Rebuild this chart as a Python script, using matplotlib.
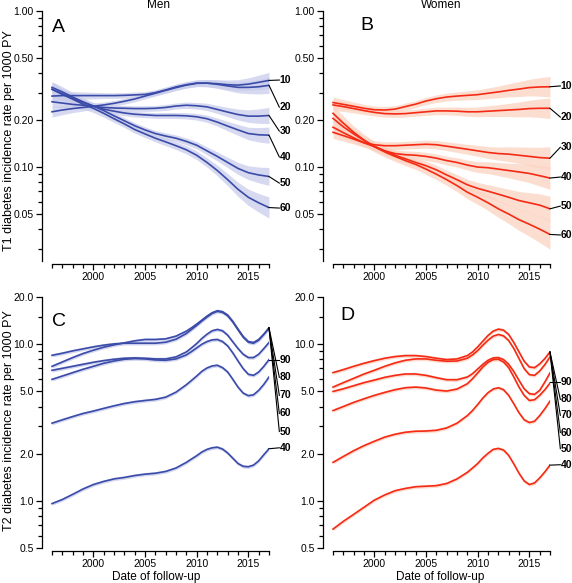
import matplotlib
matplotlib.use("Agg")
import matplotlib.pyplot as plt
from matplotlib.ticker import NullFormatter

plt.rcParams['font.family'] = ['Liberation Sans', 'DejaVu Sans']

# ---------------- data ----------------
years = list(range(1996, 2018))
years_t2 = list(range(1996, 2010)) + [2009.5, 2010, 2010.5, 2011, 2011.5, 2012, 2012.5,
                                      2013, 2013.5, 2014, 2014.5, 2015, 2015.5, 2016, 2016.5, 2017]
ages_t1 = ['10', '20', '30', '40', '50', '60']
ages_t2 = ['40', '50', '60', '70', '80', '90']

# T1, men (rate per 1000 PY)
t1_men_10 = [0.226, 0.232, 0.237, 0.241, 0.245, 0.250, 0.256, 0.264, 0.273, 0.285, 0.297,
             0.310, 0.323, 0.335, 0.344, 0.345, 0.342, 0.337, 0.335, 0.340, 0.349, 0.359]
t1_men_20 = [0.285, 0.287, 0.287, 0.287, 0.287, 0.287, 0.287, 0.288, 0.290, 0.292, 0.300,
             0.312, 0.326, 0.337, 0.345, 0.345, 0.339, 0.331, 0.324, 0.324, 0.327, 0.334]
t1_men_30 = [0.262, 0.257, 0.252, 0.249, 0.245, 0.241, 0.239, 0.238, 0.237, 0.237, 0.238,
             0.241, 0.246, 0.249, 0.247, 0.243, 0.234, 0.225, 0.217, 0.212, 0.212, 0.214]
t1_men_40 = [0.315, 0.295, 0.276, 0.259, 0.246, 0.235, 0.228, 0.222, 0.218, 0.216, 0.214,
             0.214, 0.214, 0.213, 0.210, 0.204, 0.194, 0.183, 0.173, 0.164, 0.161, 0.160]
t1_men_50 = [0.324, 0.303, 0.281, 0.262, 0.246, 0.230, 0.213, 0.198, 0.184, 0.173, 0.164,
             0.158, 0.153, 0.146, 0.138, 0.127, 0.117, 0.107, 0.098, 0.092, 0.089, 0.087]
t1_men_60 = [0.315, 0.292, 0.272, 0.253, 0.238, 0.221, 0.204, 0.189, 0.174, 0.163, 0.153,
             0.145, 0.137, 0.129, 0.119, 0.107, 0.095, 0.083, 0.072, 0.064, 0.059, 0.055]

# T1, women
t1_women_10 = [0.259, 0.252, 0.245, 0.238, 0.233, 0.232, 0.235, 0.244, 0.253, 0.265, 0.274,
               0.281, 0.285, 0.288, 0.291, 0.297, 0.303, 0.310, 0.316, 0.323, 0.326, 0.327]
t1_women_20 = [0.250, 0.244, 0.237, 0.230, 0.224, 0.220, 0.219, 0.220, 0.223, 0.226, 0.229,
               0.229, 0.228, 0.226, 0.226, 0.228, 0.230, 0.232, 0.234, 0.237, 0.238, 0.238]
t1_women_30 = [0.167, 0.159, 0.151, 0.143, 0.139, 0.137, 0.137, 0.138, 0.139, 0.140, 0.139,
               0.136, 0.133, 0.130, 0.127, 0.124, 0.122, 0.121, 0.119, 0.117, 0.115, 0.114]
t1_women_40 = [0.180, 0.166, 0.154, 0.143, 0.135, 0.127, 0.122, 0.120, 0.119, 0.117, 0.114,
               0.110, 0.107, 0.103, 0.100, 0.099, 0.097, 0.095, 0.093, 0.091, 0.088, 0.085]
t1_women_50 = [0.205, 0.181, 0.163, 0.148, 0.136, 0.127, 0.119, 0.113, 0.107, 0.102, 0.096,
               0.089, 0.083, 0.077, 0.073, 0.070, 0.067, 0.064, 0.061, 0.059, 0.057, 0.054]
t1_women_60 = [0.221, 0.191, 0.167, 0.149, 0.135, 0.125, 0.117, 0.110, 0.104, 0.097, 0.090,
               0.083, 0.076, 0.069, 0.064, 0.059, 0.054, 0.050, 0.046, 0.043, 0.040, 0.037]

# half width of the confidence band (log10 units) per year
ci_men = [0.034, 0.030, 0.026, 0.023, 0.021, 0.019, 0.018, 0.018, 0.018, 0.018, 0.018,
          0.019, 0.019, 0.020, 0.021, 0.023, 0.026, 0.030, 0.035, 0.040, 0.046, 0.052]
ci_women = [0.040, 0.035, 0.031, 0.028, 0.026, 0.025, 0.025, 0.025, 0.025, 0.026, 0.027,
            0.028, 0.030, 0.032, 0.035, 0.038, 0.042, 0.047, 0.053, 0.059, 0.066, 0.073]
ci_scale_men = [1.0, 1.0, 1.0, 1.0, 1.1, 1.3]
ci_scale_women = [0.9, 0.9, 1.0, 1.0, 1.1, 1.3]

# T2, men
t2_men_40 = [0.96, 1.02, 1.10, 1.19, 1.27, 1.33, 1.38, 1.41, 1.45, 1.48, 1.50, 1.54, 1.62, 1.76,
             1.85, 1.94, 2.05, 2.13, 2.18, 2.20, 2.14, 2.02, 1.87, 1.73, 1.66, 1.65, 1.69, 1.80, 1.97, 2.15]
t2_men_50 = [3.13, 3.29, 3.45, 3.61, 3.74, 3.89, 4.04, 4.18, 4.29, 4.37, 4.44, 4.59, 4.94, 5.51,
             5.87, 6.26, 6.71, 7.05, 7.26, 7.33, 7.08, 6.64, 5.96, 5.32, 4.87, 4.69, 4.75, 5.07, 5.54, 6.17]
t2_men_60 = [5.96, 6.26, 6.58, 6.91, 7.22, 7.55, 7.81, 8.01, 8.09, 8.05, 7.93, 7.89, 8.05, 8.54,
             8.97, 9.47, 9.99, 10.39, 10.65, 10.71, 10.39, 9.75, 8.79, 7.81, 6.98, 6.42, 6.32, 6.64, 7.22, 7.97]
t2_men_70 = [6.81, 7.01, 7.22, 7.44, 7.66, 7.85, 8.01, 8.13, 8.17, 8.13, 8.05, 8.05, 8.29, 8.92,
             9.47, 10.09, 10.87, 11.58, 12.17, 12.41, 12.17, 11.41, 10.34, 9.38, 8.62, 8.21, 8.21, 8.62, 9.38, 10.24]
t2_men_80 = [7.22, 7.70, 8.21, 8.71, 9.15, 9.56, 9.90, 10.19, 10.50, 10.71, 10.71, 10.81, 11.25, 12.11,
             12.72, 13.43, 14.24, 15.11, 15.87, 16.35, 16.11, 15.33, 13.97, 12.47, 11.19, 10.39, 10.24, 10.71, 11.58, 12.72]
t2_men_90 = [8.49, 8.75, 9.06, 9.33, 9.61, 9.85, 10.04, 10.14, 10.14, 10.14, 10.14, 10.29, 10.76, 11.70,
             12.41, 13.17, 14.04, 14.89, 15.72, 16.19, 15.95, 15.18, 13.83, 12.35, 11.08, 10.29, 10.14, 10.60, 11.53, 12.66]

# T2, women
t2_women_40 = [0.66, 0.74, 0.82, 0.91, 1.01, 1.09, 1.16, 1.20, 1.23, 1.24, 1.25, 1.29, 1.38, 1.52,
               1.62, 1.73, 1.88, 2.01, 2.13, 2.16, 2.11, 1.95, 1.72, 1.50, 1.34, 1.27, 1.30, 1.40, 1.53, 1.69]
t2_women_50 = [1.76, 1.92, 2.09, 2.25, 2.40, 2.55, 2.66, 2.74, 2.78, 2.79, 2.82, 2.92, 3.13, 3.50,
               3.77, 4.12, 4.53, 4.90, 5.17, 5.27, 5.12, 4.71, 4.16, 3.65, 3.29, 3.16, 3.22, 3.50, 3.87, 4.33]
t2_women_60 = [3.77, 4.00, 4.25, 4.48, 4.71, 4.92, 5.12, 5.27, 5.32, 5.25, 5.09, 5.02, 5.17, 5.59,
               6.02, 6.55, 7.15, 7.66, 7.97, 8.01, 7.70, 7.08, 6.17, 5.32, 4.71, 4.37, 4.42, 4.71, 5.12, 5.65]
t2_women_70 = [4.99, 5.19, 5.43, 5.68, 5.90, 6.14, 6.32, 6.45, 6.45, 6.32, 6.11, 5.93, 5.93, 6.17,
               6.48, 6.94, 7.44, 7.89, 8.17, 8.21, 7.97, 7.44, 6.68, 5.87, 5.19, 4.83, 4.78, 5.07, 5.73, 6.55]
t2_women_80 = [5.32, 5.68, 6.05, 6.45, 6.81, 7.22, 7.59, 7.89, 8.05, 8.05, 7.89, 7.78, 7.81, 8.13,
               8.54, 9.10, 9.85, 10.60, 11.25, 11.53, 11.30, 10.55, 9.38, 8.09, 6.98, 6.39, 6.32, 6.74, 7.40, 8.29]
t2_women_90 = [6.58, 6.88, 7.22, 7.55, 7.85, 8.13, 8.33, 8.45, 8.45, 8.33, 8.13, 7.97, 8.05, 8.45,
               8.92, 9.61, 10.45, 11.36, 12.11, 12.47, 12.29, 11.53, 10.24, 8.92, 7.78, 7.15, 7.08, 7.48, 8.09, 8.92]

# ---------------- label layout ----------------
lab_y_a = [0.361, 0.242, 0.170, 0.116, 0.0789, 0.0546]
lab_y_b = [0.331, 0.209, 0.134, 0.0863, 0.0562, 0.0367]
lab_y_c = [2.18, 2.77, 3.61, 4.71, 6.14, 7.89]
lab_y_d = [1.70, 2.15, 2.73, 3.51, 4.44, 5.70]
anchor_c = [2.15, 12.7, 12.7, 12.7, 12.7, 7.89]
anchor_d = [1.69, 8.9, 8.9, 8.9, 8.9, 5.70]

BLUE = '#3b4ba8'
BLUE_BAND = '#c9cdec'
RED = '#f42a14'
RED_BAND = '#fcd3c2'


def style_axes(ax, ylim, majors, fmt, minors):
    ax.set_yscale('log')
    ax.set_ylim(*ylim)
    ax.set_xlim(1995.03, 2017)
    ax.spines['top'].set_visible(False)
    ax.spines['right'].set_visible(False)
    ax.spines['bottom'].set_bounds(1996, 2017)
    ax.spines['bottom'].set_position(('outward', 2))
    for s in ['left', 'bottom']:
        ax.spines[s].set_linewidth(0.9)
    ax.set_xticks([2000, 2005, 2010, 2015])
    ax.set_xticks(list(range(1996, 2018)), minor=True)
    ax.set_yticks(majors)
    ax.set_yticklabels([fmt % v for v in majors])
    ax.set_yticks(minors, minor=True)
    ax.yaxis.set_minor_formatter(NullFormatter())
    ax.tick_params(which='major', direction='out', length=4.5, width=0.9, labelsize=7.5, pad=1.5)
    ax.tick_params(which='minor', direction='out', length=2.8, width=0.9)
    ax.patch.set_visible(False)


def add_labels(ax, labels, lab_y, anchors):
    for lab, ly, an in zip(labels, lab_y, anchors):
        ax.plot([2017, 2018], [an, ly], color='black', lw=0.8, clip_on=False)
        ax.text(2018.05, ly, lab, fontsize=7.5, fontweight='bold', va='center', ha='left')


fig = plt.figure(figsize=(5.72, 5.83), dpi=100)
W, H = 572.0, 583.0
axA = fig.add_axes([42 / W, (H - 261) / H, 227 / W, 250 / H])
axB = fig.add_axes([323 / W, (H - 261) / H, 227 / W, 250 / H])
axC = fig.add_axes([42 / W, (H - 548) / H, 227 / W, 251 / H])
axD = fig.add_axes([323 / W, (H - 548) / H, 227 / W, 251 / H])

# T1 panels
t1_men = [t1_men_10, t1_men_20, t1_men_30, t1_men_40, t1_men_50, t1_men_60]
t1_women = [t1_women_10, t1_women_20, t1_women_30, t1_women_40, t1_women_50, t1_women_60]
for ax, curves, ci, scale, col, band in [(axA, t1_men, ci_men, ci_scale_men, BLUE, BLUE_BAND),
                                         (axB, t1_women, ci_women, ci_scale_women, RED, RED_BAND)]:
    for vals, sc in zip(curves, scale):
        lo = [v * 10 ** (-w * sc) for v, w in zip(vals, ci)]
        hi = [v * 10 ** (w * sc) for v, w in zip(vals, ci)]
        ax.fill_between(years, lo, hi, color=band, alpha=0.75, lw=0)
    for vals in curves:
        ax.plot(years, vals, color=col, lw=1.2)
    style_axes(ax, (0.025, 1.0), [0.05, 0.1, 0.2, 0.5, 1.0], '%.2f',
               [0.03, 0.04, 0.06, 0.07, 0.08, 0.09, 0.3, 0.4, 0.6, 0.7, 0.8, 0.9])
add_labels(axA, ages_t1, lab_y_a, [c[-1] for c in t1_men])
add_labels(axB, ages_t1, lab_y_b, [c[-1] for c in t1_women])

# T2 panels
t2_men = [t2_men_40, t2_men_50, t2_men_60, t2_men_70, t2_men_80, t2_men_90]
t2_women = [t2_women_40, t2_women_50, t2_women_60, t2_women_70, t2_women_80, t2_women_90]
for ax, curves, col, band in [(axC, t2_men, BLUE, BLUE_BAND), (axD, t2_women, RED, RED_BAND)]:
    for vals in curves:
        ax.fill_between(years_t2, [v * 0.975 for v in vals], [v * 1.025 for v in vals],
                        color=band, alpha=0.8, lw=0)
    for vals in curves:
        ax.plot(years_t2, vals, color=col, lw=1.2)
    style_axes(ax, (0.5, 20), [0.5, 1, 2, 5, 10, 20], '%.1f',
               [0.6, 0.7, 0.8, 0.9, 3, 4, 6, 7, 8, 9, 15])
add_labels(axC, ages_t2, lab_y_c, anchor_c)
add_labels(axD, ages_t2, lab_y_d, anchor_d)

# texts
fig.text(159 / W, 1 - 8 / H, 'Men', fontsize=8.5, ha='center', va='baseline')
fig.text(441 / W, 1 - 8 / H, 'Women', fontsize=8.5, ha='center', va='baseline')
for x, y, t in [(52, 32, 'A'), (360, 30, 'B'), (52, 326, 'C'), (340, 320, 'D')]:
    fig.text(x / W, 1 - y / H, t, fontsize=14, ha='left', va='baseline')
fig.text(9 / W, 1 - 141 / H, 'T1 diabetes incidence rate per 1000 PY', fontsize=9,
         rotation=90, ha='center', va='center')
fig.text(9 / W, 1 - 421 / H, 'T2 diabetes incidence rate per 1000 PY', fontsize=9,
         rotation=90, ha='center', va='center')
fig.text(156 / W, 1 - 577 / H, 'Date of follow-up', fontsize=8.5, ha='center', va='center')
fig.text(440 / W, 1 - 577 / H, 'Date of follow-up', fontsize=8.5, ha='center', va='center')

fig.savefig('out.png', dpi=100)
